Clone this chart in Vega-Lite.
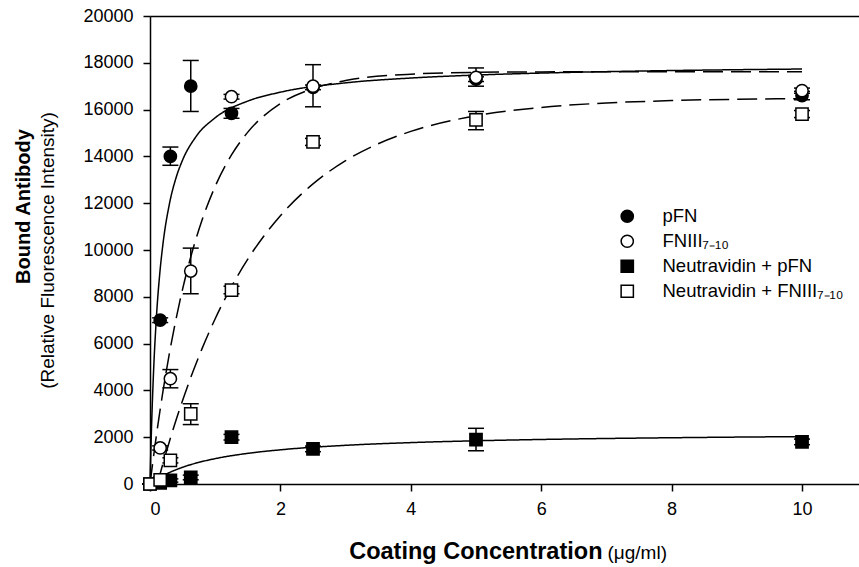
{
  "$schema": "https://vega.github.io/schema/vega-lite/v6.json",
  "width": 709,
  "height": 468,
  "autosize": {"type": "none"},
  "padding": {"left": 150, "top": 16, "right": 0, "bottom": 83},
  "background": "white",
  "config": {
    "view": {"stroke": null},
    "font": "Liberation Sans",
    "axis": {
      "grid": false,
      "domainColor": "black",
      "domainWidth": 1.5,
      "tickColor": "black",
      "tickWidth": 1.5,
      "tickSize": 7,
      "labelColor": "black",
      "titleColor": "black",
      "labelFont": "Liberation Sans",
      "titleFont": "Liberation Sans",
      "labelFontSize": 18,
      "labelPadding": 9
    },
    "legend": {
      "orient": "none",
      "legendX": 468,
      "legendY": 191,
      "labelFont": "Liberation Sans",
      "labelFontSize": 18.5,
      "labelColor": "black",
      "labelLimit": 0,
      "labelOffset": 26,
      "symbolSize": 150,
      "symbolStrokeWidth": 1.5,
      "rowPadding": 6,
      "padding": 0
    }
  },
  "datasets": {
    "points": [
      {"series": "pFN", "x": 0, "y": 0, "lo": 0, "hi": 0},
      {"series": "pFN", "x": 0.156, "y": 7000, "lo": 6900, "hi": 7100},
      {"series": "pFN", "x": 0.3125, "y": 14000, "lo": 13620, "hi": 14400},
      {"series": "pFN", "x": 0.625, "y": 17000, "lo": 15920, "hi": 18100},
      {"series": "pFN", "x": 1.25, "y": 15840, "lo": 15630, "hi": 16050},
      {"series": "pFN", "x": 2.5, "y": 16950, "lo": 16850, "hi": 17050},
      {"series": "pFN", "x": 5, "y": 17300, "lo": 17200, "hi": 17400},
      {"series": "pFN", "x": 10, "y": 16600, "lo": 16420, "hi": 16780},
      {"series": "FNIII₇₋₁₀", "x": 0, "y": 0, "lo": 0, "hi": 0},
      {"series": "FNIII₇₋₁₀", "x": 0.156, "y": 1540, "lo": 1450, "hi": 1630},
      {"series": "FNIII₇₋₁₀", "x": 0.3125, "y": 4500, "lo": 4110, "hi": 4890},
      {"series": "FNIII₇₋₁₀", "x": 0.625, "y": 9100, "lo": 8130, "hi": 10080},
      {"series": "FNIII₇₋₁₀", "x": 1.25, "y": 16550, "lo": 16450, "hi": 16650},
      {"series": "FNIII₇₋₁₀", "x": 2.5, "y": 17000, "lo": 16120, "hi": 17920},
      {"series": "FNIII₇₋₁₀", "x": 5, "y": 17380, "lo": 17000, "hi": 17780},
      {"series": "FNIII₇₋₁₀", "x": 10, "y": 16810, "lo": 16700, "hi": 16920},
      {"series": "Neutravidin + pFN", "x": 0, "y": 0, "lo": 0, "hi": 0},
      {"series": "Neutravidin + pFN", "x": 0.156, "y": 50, "lo": 0, "hi": 100},
      {"series": "Neutravidin + pFN", "x": 0.3125, "y": 150, "lo": 80, "hi": 220},
      {"series": "Neutravidin + pFN", "x": 0.625, "y": 280, "lo": 180, "hi": 380},
      {"series": "Neutravidin + pFN", "x": 1.25, "y": 2000, "lo": 1880, "hi": 2120},
      {"series": "Neutravidin + pFN", "x": 2.5, "y": 1500, "lo": 1380, "hi": 1620},
      {"series": "Neutravidin + pFN", "x": 5, "y": 1900, "lo": 1420, "hi": 2380},
      {"series": "Neutravidin + pFN", "x": 10, "y": 1800, "lo": 1680, "hi": 1920},
      {"series": "Neutravidin + FNIII₇₋₁₀", "x": 0, "y": 0, "lo": 0, "hi": 0},
      {"series": "Neutravidin + FNIII₇₋₁₀", "x": 0.156, "y": 180, "lo": 100, "hi": 260},
      {"series": "Neutravidin + FNIII₇₋₁₀", "x": 0.3125, "y": 1010, "lo": 900, "hi": 1120},
      {"series": "Neutravidin + FNIII₇₋₁₀", "x": 0.625, "y": 3000, "lo": 2540, "hi": 3430},
      {"series": "Neutravidin + FNIII₇₋₁₀", "x": 1.25, "y": 8290, "lo": 8130, "hi": 8450},
      {"series": "Neutravidin + FNIII₇₋₁₀", "x": 2.5, "y": 14620, "lo": 14470, "hi": 14770},
      {"series": "Neutravidin + FNIII₇₋₁₀", "x": 5, "y": 15560, "lo": 15140, "hi": 15920},
      {"series": "Neutravidin + FNIII₇₋₁₀", "x": 10, "y": 15810, "lo": 15660, "hi": 15960}
    ],
    "curves": [
      {"curve": "pFN", "dash": "solid", "x": 0, "y": 0},
      {"curve": "pFN", "dash": "solid", "x": 0.01, "y": 1125},
      {"curve": "pFN", "dash": "solid", "x": 0.02, "y": 2118},
      {"curve": "pFN", "dash": "solid", "x": 0.05, "y": 4500},
      {"curve": "pFN", "dash": "solid", "x": 0.1, "y": 7200},
      {"curve": "pFN", "dash": "solid", "x": 0.15, "y": 9000},
      {"curve": "pFN", "dash": "solid", "x": 0.2, "y": 10286},
      {"curve": "pFN", "dash": "solid", "x": 0.3, "y": 12000},
      {"curve": "pFN", "dash": "solid", "x": 0.4, "y": 13091},
      {"curve": "pFN", "dash": "solid", "x": 0.5, "y": 13846},
      {"curve": "pFN", "dash": "solid", "x": 0.7, "y": 14824},
      {"curve": "pFN", "dash": "solid", "x": 1, "y": 15652},
      {"curve": "pFN", "dash": "solid", "x": 1.5, "y": 16364},
      {"curve": "pFN", "dash": "solid", "x": 2, "y": 16744},
      {"curve": "pFN", "dash": "solid", "x": 3, "y": 17143},
      {"curve": "pFN", "dash": "solid", "x": 4, "y": 17349},
      {"curve": "pFN", "dash": "solid", "x": 5, "y": 17476},
      {"curve": "pFN", "dash": "solid", "x": 6, "y": 17561},
      {"curve": "pFN", "dash": "solid", "x": 7, "y": 17622},
      {"curve": "pFN", "dash": "solid", "x": 8, "y": 17669},
      {"curve": "pFN", "dash": "solid", "x": 9, "y": 17705},
      {"curve": "pFN", "dash": "solid", "x": 10, "y": 17734},
      {"curve": "FNIII", "dash": "dashed", "x": 0, "y": 0},
      {"curve": "FNIII", "dash": "dashed", "x": 0.1, "y": 2116},
      {"curve": "FNIII", "dash": "dashed", "x": 0.2, "y": 3980},
      {"curve": "FNIII", "dash": "dashed", "x": 0.3, "y": 5619},
      {"curve": "FNIII", "dash": "dashed", "x": 0.4, "y": 7060},
      {"curve": "FNIII", "dash": "dashed", "x": 0.5, "y": 8329},
      {"curve": "FNIII", "dash": "dashed", "x": 0.6, "y": 9446},
      {"curve": "FNIII", "dash": "dashed", "x": 0.8, "y": 11291},
      {"curve": "FNIII", "dash": "dashed", "x": 1, "y": 12722},
      {"curve": "FNIII", "dash": "dashed", "x": 1.25, "y": 14063},
      {"curve": "FNIII", "dash": "dashed", "x": 1.5, "y": 15037},
      {"curve": "FNIII", "dash": "dashed", "x": 2, "y": 16258},
      {"curve": "FNIII", "dash": "dashed", "x": 2.5, "y": 16901},
      {"curve": "FNIII", "dash": "dashed", "x": 3, "y": 17241},
      {"curve": "FNIII", "dash": "dashed", "x": 4, "y": 17514},
      {"curve": "FNIII", "dash": "dashed", "x": 5, "y": 17590},
      {"curve": "FNIII", "dash": "dashed", "x": 6, "y": 17612},
      {"curve": "FNIII", "dash": "dashed", "x": 8, "y": 17620},
      {"curve": "FNIII", "dash": "dashed", "x": 10, "y": 17620},
      {"curve": "NpFN", "dash": "solid", "x": 0, "y": 0},
      {"curve": "NpFN", "dash": "solid", "x": 0.1, "y": 192},
      {"curve": "NpFN", "dash": "solid", "x": 0.25, "y": 425},
      {"curve": "NpFN", "dash": "solid", "x": 0.5, "y": 715},
      {"curve": "NpFN", "dash": "solid", "x": 0.75, "y": 925},
      {"curve": "NpFN", "dash": "solid", "x": 1, "y": 1084},
      {"curve": "NpFN", "dash": "solid", "x": 1.5, "y": 1310},
      {"curve": "NpFN", "dash": "solid", "x": 2, "y": 1461},
      {"curve": "NpFN", "dash": "solid", "x": 3, "y": 1653},
      {"curve": "NpFN", "dash": "solid", "x": 4, "y": 1769},
      {"curve": "NpFN", "dash": "solid", "x": 5, "y": 1847},
      {"curve": "NpFN", "dash": "solid", "x": 6, "y": 1903},
      {"curve": "NpFN", "dash": "solid", "x": 7, "y": 1945},
      {"curve": "NpFN", "dash": "solid", "x": 8, "y": 1977},
      {"curve": "NpFN", "dash": "solid", "x": 9, "y": 2004},
      {"curve": "NpFN", "dash": "solid", "x": 10, "y": 2025},
      {"curve": "NFNIII", "dash": "dashed", "x": 0.112, "y": 0},
      {"curve": "NFNIII", "dash": "dashed", "x": 0.2, "y": 889},
      {"curve": "NFNIII", "dash": "dashed", "x": 0.3, "y": 1841},
      {"curve": "NFNIII", "dash": "dashed", "x": 0.4, "y": 2734},
      {"curve": "NFNIII", "dash": "dashed", "x": 0.6, "y": 4361},
      {"curve": "NFNIII", "dash": "dashed", "x": 0.8, "y": 5797},
      {"curve": "NFNIII", "dash": "dashed", "x": 1, "y": 7062},
      {"curve": "NFNIII", "dash": "dashed", "x": 1.25, "y": 8435},
      {"curve": "NFNIII", "dash": "dashed", "x": 1.5, "y": 9610},
      {"curve": "NFNIII", "dash": "dashed", "x": 1.75, "y": 10611},
      {"curve": "NFNIII", "dash": "dashed", "x": 2, "y": 11468},
      {"curve": "NFNIII", "dash": "dashed", "x": 2.5, "y": 12825},
      {"curve": "NFNIII", "dash": "dashed", "x": 3, "y": 13819},
      {"curve": "NFNIII", "dash": "dashed", "x": 3.5, "y": 14541},
      {"curve": "NFNIII", "dash": "dashed", "x": 4, "y": 15069},
      {"curve": "NFNIII", "dash": "dashed", "x": 5, "y": 15738},
      {"curve": "NFNIII", "dash": "dashed", "x": 6, "y": 16094},
      {"curve": "NFNIII", "dash": "dashed", "x": 7, "y": 16284},
      {"curve": "NFNIII", "dash": "dashed", "x": 8, "y": 16385},
      {"curve": "NFNIII", "dash": "dashed", "x": 10, "y": 16467}
    ]
  },
  "resolve": {"axis": {"x": "independent", "y": "independent"}},
  "layer": [
    {
      "data": {"name": "curves"},
      "mark": {"type": "line", "color": "black", "strokeWidth": 1.5, "interpolate": "monotone"},
      "encoding": {
        "x": {
          "field": "x", "type": "quantitative",
          "scale": {"domain": [0, 10.874], "nice": false, "zero": false},
          "axis": {
            "values": [0, 2, 4, 6, 8, 10],
            "title": "Coating Concentration",
            "titleFontWeight": "bold",
            "titleFontSize": 23.5,
            "titleAlign": "right",
            "titleAnchor": "start",
            "titleX": 452,
            "titleY": 74,
            "titleBaseline": "alphabetic"
          }
        },
        "y": {
          "field": "y", "type": "quantitative",
          "scale": {"domain": [0, 20000], "nice": false},
          "axis": {
            "values": [0, 2000, 4000, 6000, 8000, 10000, 12000, 14000, 16000, 18000, 20000],
            "format": "d",
            "labelPadding": 10,
            "title": "(Relative Fluorescence Intensity)",
            "titleFontWeight": "normal",
            "titleFontSize": 19,
            "titleAngle": -90,
            "titleAlign": "center",
            "titleBaseline": "middle",
            "titleX": -103,
            "titleY": 234
          }
        },
        "detail": {"field": "curve"},
        "strokeDash": {
          "field": "dash", "type": "nominal",
          "scale": {"domain": ["solid", "dashed"], "range": [[1, 0], [20, 8]]},
          "legend": null
        }
      }
    },
    {
      "data": {"name": "points"},
      "mark": {"type": "rule", "color": "black", "strokeWidth": 1.5},
      "encoding": {
        "x": {
          "field": "x", "type": "quantitative",
          "axis": {"orient": "top", "labels": false, "ticks": false, "title": null, "domain": true}
        },
        "y": {
          "field": "lo", "type": "quantitative",
          "axis": {
            "orient": "left", "labels": false, "ticks": false, "domain": false,
            "title": "Bound Antibody",
            "titleFontWeight": "bold",
            "titleFontSize": 20,
            "titleAngle": -90,
            "titleAlign": "center",
            "titleBaseline": "middle",
            "titleX": -127,
            "titleY": 190
          }
        },
        "y2": {"field": "hi"}
      }
    },
    {
      "data": {"name": "points"},
      "mark": {"type": "tick", "orient": "horizontal", "size": 16, "thickness": 1.5, "color": "black", "opacity": 1},
      "encoding": {
        "x": {"field": "x", "type": "quantitative", "axis": null},
        "y": {"field": "hi", "type": "quantitative", "axis": null}
      }
    },
    {
      "data": {"name": "points"},
      "mark": {"type": "tick", "orient": "horizontal", "size": 16, "thickness": 1.5, "color": "black", "opacity": 1},
      "encoding": {
        "x": {"field": "x", "type": "quantitative", "axis": null},
        "y": {"field": "lo", "type": "quantitative", "axis": null}
      }
    },
    {
      "data": {"name": "points"},
      "mark": {"type": "point", "filled": true, "strokeWidth": 1.5, "size": 150, "opacity": 1},
      "encoding": {
        "x": {
          "field": "x", "type": "quantitative",
          "axis": {
            "orient": "bottom", "labels": false, "ticks": false, "domain": false,
            "title": "(μg/ml)",
            "titleFontWeight": "normal",
            "titleFontSize": 19,
            "titleAlign": "left",
            "titleAnchor": "start",
            "titleX": 457,
            "titleY": 74,
            "titleBaseline": "alphabetic"
          }
        },
        "y": {"field": "y", "type": "quantitative", "axis": null},
        "shape": {
          "field": "series", "type": "nominal",
          "scale": {"domain": ["pFN", "FNIII₇₋₁₀", "Neutravidin + pFN", "Neutravidin + FNIII₇₋₁₀"], "range": ["circle", "circle", "square", "square"]},
          "legend": {"title": null}
        },
        "fill": {
          "field": "series", "type": "nominal",
          "scale": {"domain": ["pFN", "FNIII₇₋₁₀", "Neutravidin + pFN", "Neutravidin + FNIII₇₋₁₀"], "range": ["black", "white", "black", "white"]},
          "legend": {"title": null}
        },
        "stroke": {
          "field": "series", "type": "nominal",
          "scale": {"domain": ["pFN", "FNIII₇₋₁₀", "Neutravidin + pFN", "Neutravidin + FNIII₇₋₁₀"], "range": ["black", "black", "black", "black"]},
          "legend": {"title": null}
        }
      }
    }
  ]
}
